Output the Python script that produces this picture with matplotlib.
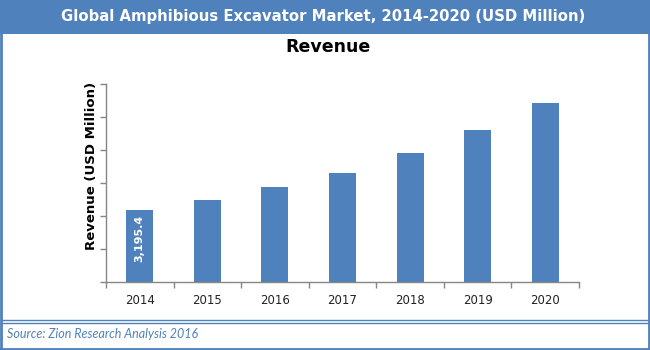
import matplotlib
matplotlib.use("Agg")
import matplotlib.pyplot as plt
from matplotlib.patches import Rectangle
from matplotlib.lines import Line2D
import numpy as np

years = ["2014", "2015", "2016", "2017", "2018", "2019", "2020"]
revenue = [3195.4, 3640, 4215, 4840, 5725, 6745, 7945]
labels = ["3,195.4", "", "", "", "", "", ""]

BLUE = "#4F81BD"
AXIS_GRAY = "#868686"

W, H = 650, 350
fig = plt.figure(figsize=(W / 100, H / 100), dpi=100)
fig.patch.set_facecolor("white")


def fx(px):
    return px / W


def fy(py):
    return 1 - py / H


# header band
fig.add_artist(Rectangle((0, fy(34)), 1, 34 / H, transform=fig.transFigure,
                         facecolor=BLUE, edgecolor="none", zorder=0))
fig.text(fx(323), fy(16.5), "Global Amphibious Excavator Market, 2014-2020 (USD Million)",
         ha="center", va="center", color="white", fontsize=10.75, fontweight="bold",
         family="DejaVu Sans")

# outer frame
for x in (fx(1.2), fx(648.8)):
    fig.add_artist(Line2D([x, x], [fy(348.8), fy(34)], transform=fig.transFigure,
                          color=BLUE, lw=2.0))
fig.add_artist(Line2D([fx(0), fx(650)], [fy(348.6), fy(348.6)], transform=fig.transFigure,
                      color=BLUE, lw=2.0))
for y in (320, 322.8):
    fig.add_artist(Line2D([fx(1), fx(649)], [fy(y), fy(y)], transform=fig.transFigure,
                          color=BLUE, lw=1.0))

fig.text(fx(7), fy(334), "Source: Zion Research Analysis 2016", ha="left", va="center",
         color=BLUE, fontsize=9, style="italic", family="Lato")

fig.text(fx(328), fy(47), "Revenue", ha="center", va="center", color="black",
         fontsize=12.5, fontweight="bold", family="DejaVu Sans")

# plot area
ax = fig.add_axes([fx(106), fy(282), (579 - 106) / W, (282 - 84) / H])
x = np.arange(len(years))
bars = ax.bar(x, revenue, width=0.4, color=BLUE, zorder=2)
ax.set_xlim(-0.5, len(years) - 0.5)
ax.set_ylim(0, 8800)
ax.set_yticks(np.linspace(0, 8800, 7))
ax.set_yticklabels([])
ax.set_xticks(x)
ax.set_xticklabels(years, fontsize=8.5, color="#222222", family="DejaVu Sans")
ax.set_xticks(np.arange(-0.5, len(years) + 0.5, 1), minor=True)
ax.tick_params(axis="x", which="major", length=0, pad=9)
ax.tick_params(axis="x", which="minor", length=4, color=AXIS_GRAY, width=1)
ax.tick_params(axis="y", length=4, color=AXIS_GRAY, width=1)
for s in ("top", "right"):
    ax.spines[s].set_visible(False)
for s in ("left", "bottom"):
    ax.spines[s].set_color(AXIS_GRAY)
    ax.spines[s].set_linewidth(1)

for b, v, lab in zip(bars, revenue, labels):
    if lab:
        ax.annotate(lab, (b.get_x() + b.get_width() / 2, v), xytext=(0, -3),
                    textcoords="offset points", rotation=90, ha="center", va="top",
                    color="white", fontsize=8, fontweight="bold", family="DejaVu Sans")

fig.text(fx(92), fy(166), "Revenue (USD Million)", rotation=90, ha="center", va="center",
         color="black", fontsize=9.5, fontweight="bold", family="DejaVu Sans")

fig.savefig("out.png", dpi=100, facecolor="white")
